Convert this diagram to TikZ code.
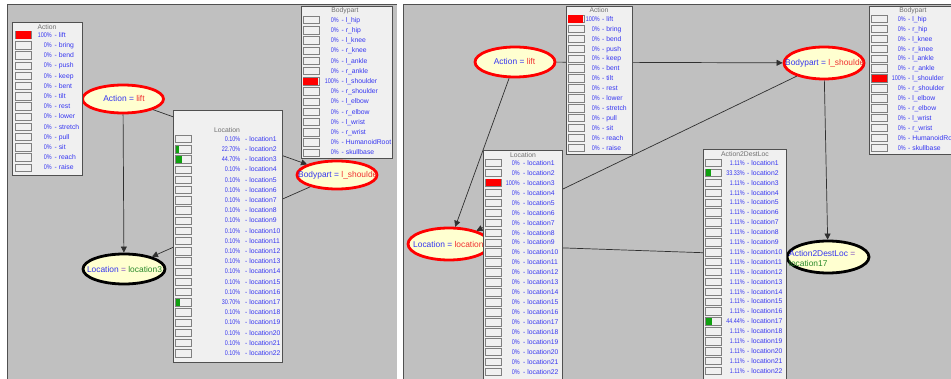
\documentclass[tikz,border=0pt]{standalone}
\usepackage{fontspec}
\setmainfont{Liberation Sans}
\usetikzlibrary{shapes.geometric,arrows.meta,calc}
\definecolor{panelgray}{HTML}{C0C0C0}
\definecolor{paneledge}{HTML}{505050}
\definecolor{boxfill}{HTML}{F0F0F0}
\definecolor{boxedge}{HTML}{505050}
\definecolor{baredge}{HTML}{808080}
\definecolor{txtblue}{HTML}{3535F0}
\definecolor{txtred}{HTML}{F03030}
\definecolor{txtgreen}{HTML}{2A8A2A}
\definecolor{eqpurple}{HTML}{8050C0}
\definecolor{barred}{HTML}{FF0000}
\definecolor{bargreen}{HTML}{10A010}
\definecolor{ellfill}{HTML}{FFFFD0}
\definecolor{titlegray}{HTML}{707070}
\definecolor{linegray}{HTML}{303030}
\tikzset{
  probbox/.style={fill=boxfill, draw=boxedge, line width=0.8pt, inner sep=0pt, anchor=north west},
  barbox/.style={draw=baredge, fill=boxfill, line width=0.6pt, minimum width=16pt, minimum height=7.5pt, inner sep=0pt, anchor=west},
  pct/.style={text=txtblue, font=\fontsize{6.8}{7}\selectfont, inner sep=0pt, anchor=base east},
  lbl/.style={text=txtblue, font=\fontsize{6.8}{7}\selectfont, inner sep=0pt, anchor=base west},
  boxtitle/.style={text=titlegray, font=\fontsize{6.8}{7}\selectfont, inner sep=0pt},
  evid/.style={ellipse, draw=red, line width=2.8pt, fill=ellfill, inner sep=0pt},
  query/.style={ellipse, draw=black, line width=2.8pt, fill=ellfill, inner sep=0pt},
  elltext/.style={font=\fontsize{8.4}{10}\selectfont, inner sep=0pt, align=left},
  link/.style={draw=linegray, line width=0.7pt, -{Triangle[length=6pt,width=6pt]}},
}
\newcommand{\probrows}[8]{%
  \foreach \pc/\lb/\fr [count=\i] in {#8} {%
    \pgfmathsetmacro{\yy}{#5+(\i-1)*#6}%
    \node[barbox] (#1b\i) at (#2,\yy) {};%
    \ifdim \fr pt>0pt
      \fill[#7] ($(#1b\i.north west)+(0.5,0.5)$) rectangle ($(#1b\i.south west)+({\fr*15+0.5},-0.5)$);
    \fi
    \node[pct] (#1p\i) at (#3,\yy+2.4) {\scalebox{0.8}[1]{\pc\%}};%
    \node[lbl] (#1l\i) at (#4,\yy+2.4) {- \lb};%
  }}
\begin{document}
\begin{tikzpicture}[x=1pt,y=-1pt]
\clip (0,0) rectangle (951,379);
\fill[white] (0,0) rectangle (951,379);
% panels
\fill[panelgray] (7,5) rectangle (397,379);
\fill[panelgray] (403,5) rectangle (951,379);
\draw[paneledge, line width=1pt] (7,379) -- (7,5) -- (397,5);
\draw[paneledge, line width=1pt] (403,379) -- (403,5) -- (951,5);

% ---------- left panel: ellipses ----------
\node[evid, minimum width=81pt, minimum height=28pt] (actL) at (123,99) {};
\node[elltext] (actLt) at (124,99) {\textcolor{txtblue}{Action =} \textcolor{txtred}{lift}};
\node[query, minimum width=82pt, minimum height=30pt] (locL) at (124,269) {};
\node[elltext] (locLt) at (124.5,269) {\textcolor{txtblue}{Location} \textcolor{eqpurple}{=} \textcolor{txtgreen}{location3}};
\node[evid, minimum width=80pt, minimum height=28pt] (bodyL) at (337,175) {};
\node[elltext, anchor=west] (bodyLt) at (298,175) {\textcolor{txtblue}{Bodypart =} \textcolor{txtred}{l\_shoulde}};

% ---------- right panel: ellipses ----------
\node[evid, minimum width=80pt, minimum height=30pt] (actR) at (515,62) {};
\node[elltext] (actRt) at (514.5,62) {\textcolor{txtblue}{Action =} \textcolor{txtred}{lift}};
\node[evid, minimum width=80pt, minimum height=32pt] (bodyR) at (824,63) {};
\node[elltext, anchor=west] (bodyRt) at (785,63) {\textcolor{txtblue}{Bodypart =} \textcolor{txtred}{l\_shoulde}};
\node[evid, minimum width=82pt, minimum height=32pt] (locR) at (449,244) {};
\node[elltext, anchor=west] (locRt) at (413,244) {\textcolor{txtblue}{Location =} \textcolor{txtred}{location3}};
\node[query, minimum width=82pt, minimum height=32pt] (a2d) at (828,257) {};
\node[elltext, anchor=west] (a2dt) at (789,258) {\textcolor{txtblue}{Action2DestLoc} \textcolor{eqpurple}{=}\\\textcolor{txtgreen}{location17}};

% ---------- connectors ----------
\draw[link] (actL) -- (locL);
\draw[link] (actL) -- (bodyL);
\draw[link] (bodyL) -- (locL);
\draw[link] (actR) -- (bodyR);
\draw[link] (actR) -- (locR);
\draw[link] (bodyR) -- (locR);
\draw[link] (bodyR) -- (a2d);
\draw[link] (locR) -- (a2d);

% ---------- left panel: boxes ----------
\node[probbox, minimum width=70pt, minimum height=153pt] (actLbox) at (12,22) {};
\node[boxtitle] (actLtitle) at (47,27) {Action};
\probrows{AL}{15}{52}{54.5}{35}{10.2}{barred}{100/lift/1, 0/bring/0, 0/bend/0, 0/push/0, 0/keep/0, 0/bent/0, 0/tilt/0, 0/rest/0, 0/lower/0, 0/stretch/0, 0/pull/0, 0/sit/0, 0/reach/0, 0/raise/0}

\node[probbox, minimum width=109pt, minimum height=252pt] (locLbox) at (173,110) {};
\node[boxtitle] (locLtitle) at (227,130) {Location};
\probrows{LL}{175}{240.5}{245}{139}{10.2}{bargreen}{0.10/location1/0, 22.70/location2/0.227, 44.70/location3/0.447, 0.10/location4/0, 0.10/location5/0, 0.10/location6/0, 0.10/location7/0, 0.10/location8/0, 0.10/location9/0, 0.10/location10/0, 0.10/location11/0, 0.10/location12/0, 0.10/location13/0, 0.10/location14/0, 0.10/location15/0, 0.10/location16/0, 30.70/location17/0.307, 0.10/location18/0, 0.10/location19/0, 0.10/location20/0, 0.10/location21/0, 0.10/location22/0}

\node[probbox, minimum width=91pt, minimum height=152pt] (bodyLbox) at (301,6) {};
\node[boxtitle] (bodyLtitle) at (345,11) {Bodypart};
\probrows{BL}{302.5}{339}{341.5}{20}{10.2}{barred}{0/l\_hip/0, 0/r\_hip/0, 0/l\_knee/0, 0/r\_knee/0, 0/l\_ankle/0, 0/r\_ankle/0, 100/l\_shoulder/1, 0/r\_shoulder/0, 0/l\_elbow/0, 0/r\_elbow/0, 0/l\_wrist/0, 0/r\_wrist/0, 0/HumanoidRoot/0, 0/skullbase/0}

% ---------- right panel: boxes ----------
\node[probbox, minimum width=66pt, minimum height=148pt] (actRbox) at (566,6) {};
\node[boxtitle] (actRtitle) at (599,10.5) {Action};
\probrows{AR}{567.5}{600}{602}{19}{9.9}{barred}{100/lift/1, 0/bring/0, 0/bend/0, 0/push/0, 0/keep/0, 0/bent/0, 0/tilt/0, 0/rest/0, 0/lower/0, 0/stretch/0, 0/pull/0, 0/sit/0, 0/reach/0, 0/raise/0}

\node[probbox, minimum width=90pt, minimum height=148pt] (bodyRbox) at (869,6) {};
\node[boxtitle] (bodyRtitle) at (913,10.5) {Bodypart};
\probrows{BR}{871}{906}{908}{19}{9.9}{barred}{0/l\_hip/0, 0/r\_hip/0, 0/l\_knee/0, 0/r\_knee/0, 0/l\_ankle/0, 0/r\_ankle/0, 100/l\_shoulder/1, 0/r\_shoulder/0, 0/l\_elbow/0, 0/r\_elbow/0, 0/l\_wrist/0, 0/r\_wrist/0, 0/HumanoidRoot/0, 0/skullbase/0}

\node[probbox, minimum width=79pt, minimum height=232pt] (locRbox) at (483,150) {};
\node[boxtitle] (locRtitle) at (523,155) {Location};
\probrows{LR}{485}{520}{523}{163}{9.95}{barred}{0/location1/0, 0/location2/0, 100/location3/1, 0/location4/0, 0/location5/0, 0/location6/0, 0/location7/0, 0/location8/0, 0/location9/0, 0/location10/0, 0/location11/0, 0/location12/0, 0/location13/0, 0/location14/0, 0/location15/0, 0/location16/0, 0/location17/0, 0/location18/0, 0/location19/0, 0/location20/0, 0/location21/0, 0/location22/0}

\node[probbox, minimum width=83pt, minimum height=233pt] (a2dbox) at (703,149) {};
\node[boxtitle] (a2dtitle) at (745,154) {Action2DestLoc};
\probrows{DL}{705}{745}{747}{163}{9.9}{bargreen}{1.11/location1/0, 33.33/location2/0.333, 1.11/location3/0, 1.11/location4/0, 1.11/location5/0, 1.11/location6/0, 1.11/location7/0, 1.11/location8/0, 1.11/location9/0, 1.11/location10/0, 1.11/location11/0, 1.11/location12/0, 1.11/location13/0, 1.11/location14/0, 1.11/location15/0, 1.11/location16/0, 44.44/location17/0.444, 1.11/location18/0, 1.11/location19/0, 1.11/location20/0, 1.11/location21/0, 1.11/location22/0}
\end{tikzpicture}
\end{document}
